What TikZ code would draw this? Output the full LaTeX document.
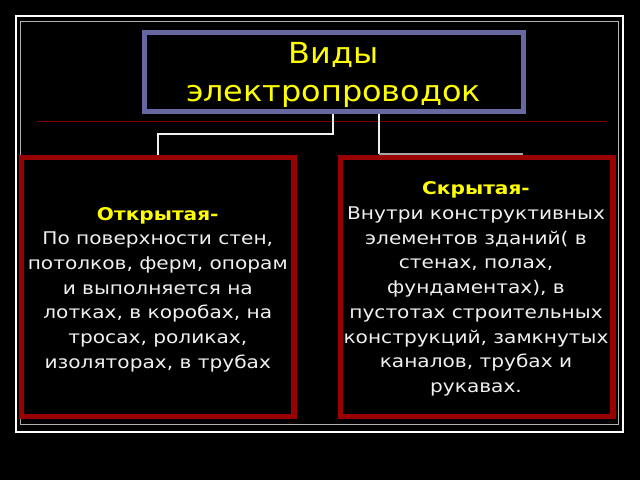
\documentclass[tikz,border=0pt]{standalone}
\usepackage{fontspec}
\setmainfont{DejaVu Sans}
\newfontfamily\titlefont[FakeStretch=1.10]{DejaVu Sans}
\newfontfamily\bodyfont[FakeStretch=1.15]{DejaVu Sans}
\newfontfamily\bodyboldfont[FakeStretch=1.15]{DejaVu Sans Bold}
\definecolor{slate}{RGB}{104,104,160}
\definecolor{boxred}{RGB}{153,0,0}
\definecolor{linered}{RGB}{128,0,0}
\definecolor{txtw}{RGB}{240,240,240}
\definecolor{txty}{RGB}{255,255,0}
\begin{document}
\begin{tikzpicture}[x=1pt,y=-1pt,
  titlebox/.style={draw=slate,line width=5pt,minimum width=378.5pt,minimum height=79pt,inner sep=0pt},
  redbox/.style={draw=boxred,line width=5.5pt,minimum width=272.5pt,minimum height=259pt,inner sep=0pt},
  titletxt/.style={text=txty,align=center,inner sep=0pt,font=\titlefont\fontsize{29}{37.7}\selectfont},
  bodytxt/.style={text=txtw,align=center,inner sep=0pt,font=\bodyfont\fontsize{17.5}{24.7}\selectfont},
  conn/.style={draw=txtw,line width=2pt}]
\fill[black] (0,0) rectangle (640,480);
\useasboundingbox (0,0) rectangle (640,480);
\draw[white,line width=2pt] (15.5,15.5) rectangle (623,432);
\draw[gray!60,line width=1pt] (20.5,21.5) rectangle (618,424);
\draw[linered,line width=1pt] (37,121) -- (607,121);
% boxes
\node[titlebox] (title) at (333.75,72) {};
\node[redbox] (left) at (157.75,287) {};
\node[redbox] (right) at (476.75,287) {};
% connectors
\coordinate (lc) at (333,134);
\coordinate (rc) at (379,154);
\coordinate (re) at (523,154);
\draw[conn] (title.south -| lc) -- (lc) -| (left.north);
\draw[conn] (title.south -| rc) -- (rc);
\draw[draw=gray!70,line width=2pt] (rc) -- (re);
% redraw box borders on top
\node[redbox] at (157.75,287) {};
\node[redbox] at (476.75,287) {};
% texts
\node[titletxt] (ttitle) at (333.5,75) {Виды\\электропроводок};
\node[bodytxt] (tleft) at (157.75,289.5) {\textcolor{txty}{\bodyboldfont Открытая-}\\По поверхности стен,\\потолков, ферм, опорам\\и выполняется на\\лотках, в коробах, на\\тросах, роликах,\\изоляторах, в трубах};
\node[bodytxt] (tright) at (476,289) {\textcolor{txty}{\bodyboldfont Скрытая-}\\Внутри конструктивных\\элементов зданий( в\\стенах, полах,\\фундаментах), в\\пустотах строительных\\конструкций, замкнутых\\каналов, трубах и\\рукавах.};
\end{tikzpicture}
\end{document}
